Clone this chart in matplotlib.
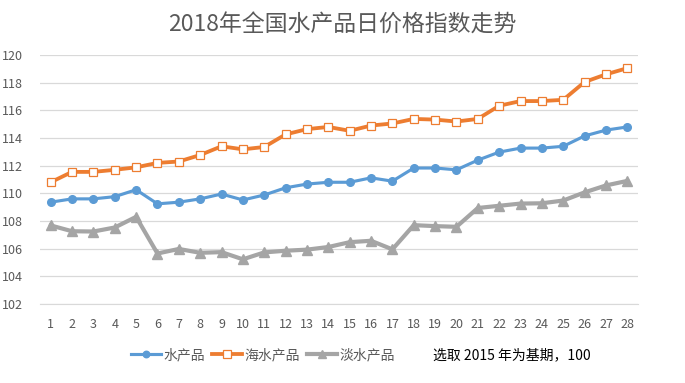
import matplotlib
matplotlib.use("Agg")
import matplotlib.pyplot as plt

plt.rcParams['font.family'] = ['Noto Sans CJK SC', 'DejaVu Sans']

days = list(range(1, 29))
aquatic = [109.36, 109.6, 109.6, 109.76, 110.26, 109.24, 109.36, 109.6, 109.95, 109.52,
           109.88, 110.4, 110.67, 110.8, 110.8, 111.12, 110.88, 111.83, 111.83, 111.7,
           112.4, 112.98, 113.27, 113.27, 113.4, 114.15, 114.57, 114.8]
marine = [110.8, 111.55, 111.55, 111.7, 111.88, 112.2, 112.3, 112.77, 113.4, 113.18,
          113.35, 114.26, 114.64, 114.8, 114.52, 114.9, 115.05, 115.38, 115.33, 115.19,
          115.38, 116.33, 116.67, 116.67, 116.76, 118.05, 118.6, 119.05]
freshwater = [107.68, 107.26, 107.24, 107.53, 108.3, 105.65, 105.98, 105.7, 105.75, 105.23,
              105.73, 105.85, 105.93, 106.12, 106.47, 106.57, 105.95, 107.7, 107.63, 107.58,
              108.94, 109.1, 109.26, 109.28, 109.48, 110.07, 110.57, 110.9]
series_names = ['水产品', '海水产品', '淡水产品']
yticks = list(range(102, 121, 2))
title = '2018年全国水产品日价格指数走势'
note = '选取 2015 年为基期，100'

fig = plt.figure(figsize=(6.85, 3.83), dpi=100)
ax = fig.add_axes([40/685, 1-304/383, 598/685, 249/383])

ax.plot(days, aquatic, color='#5B9BD5', lw=2.25, marker='o', ms=5.5,
        mfc='#5B9BD5', mec='#5B9BD5', label=series_names[0], zorder=3)
ax.plot(days, marine, color='#ED7D31', lw=2.75, marker='s', ms=6,
        mfc='white', mec='#ED7D31', mew=0.9, label=series_names[1], zorder=3)
ax.plot(days, freshwater, color='#A5A5A5', lw=3, marker='^', ms=6.5,
        mfc='#A5A5A5', mec='#A5A5A5', label=series_names[2], zorder=3)

ax.set_xlim(0.5, 28.5)
ax.set_ylim(102, 120)
ax.set_yticks(yticks)
ax.set_xticks(days)
ax.grid(axis='y', color='#D9D9D9', lw=0.9)
ax.set_axisbelow(True)
for s in ['top', 'right', 'left']:
    ax.spines[s].set_visible(False)
ax.spines['bottom'].set_color('#D9D9D9')
ax.tick_params(axis='both', length=0, labelsize=9, colors='#595959')
ax.tick_params(axis='y', pad=12)
ax.tick_params(axis='x', pad=10)

fig.text(0.5, 1-25/383, title, ha='center', va='center', fontsize=16.5, color='#595959')

leg = fig.legend(loc='center left', bbox_to_anchor=(118/685, 1-355/383), ncol=3, frameon=False,
                 fontsize=10, handlelength=2.2, columnspacing=0.5, handletextpad=0.15,
                 labelcolor='#595959', markerscale=0.85)
fig.text(433/685, 1-355/383, note, ha='left', va='center', fontsize=10, color='black')

fig.savefig('out.png', dpi=100)
